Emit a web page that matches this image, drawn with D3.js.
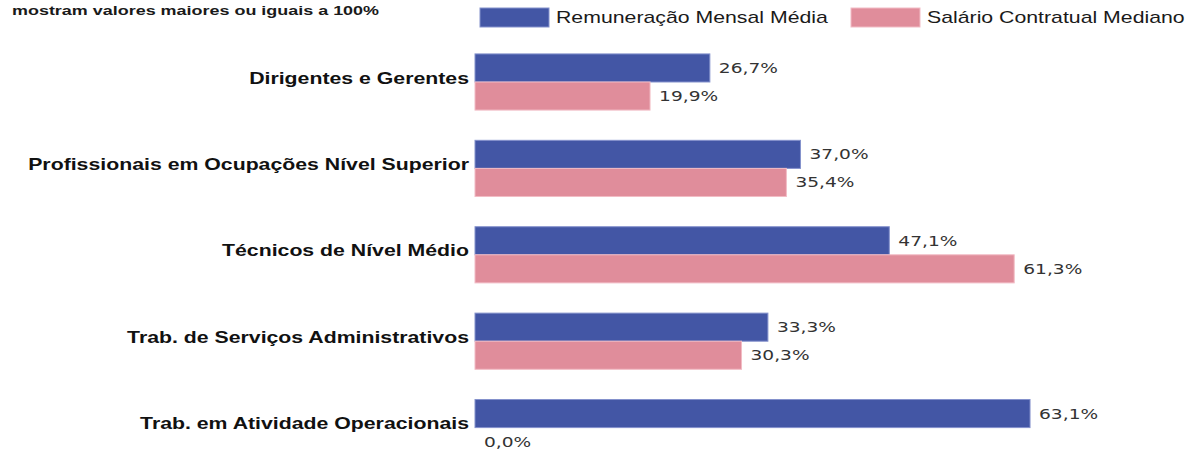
<!DOCTYPE html>
<meta charset="utf-8">
<style>
  body { margin: 0; background: #fff; }
  svg { display: block; }
  .cat { font-family: "Liberation Sans", Arial, sans-serif; font-weight: bold; font-size: 16px; fill: #111; }
  .legend text { font-family: "Liberation Sans", Arial, sans-serif; font-size: 16px; fill: #1a1a1a; }
  .note { font-family: "Liberation Sans", Arial, sans-serif; font-weight: bold; font-size: 13.5px; fill: #1a1a1a; }
  .val { font-family: "DejaVu Sans", Verdana, sans-serif; font-size: 14px; fill: #333; }
</style>
<body>
<div id="chart"></div>
<script src="https://d3js.org/d3.v7.min.js"></script>
<script>
// data
const categories = [
  "Dirigentes e Gerentes",
  "Profissionais em Ocupações Nível Superior",
  "Técnicos de Nível Médio",
  "Trab. de Serviços Administrativos",
  "Trab. em Atividade Operacionais"
];
const series = ["Remuneração Mensal Média", "Salário Contratual Mediano"];
const remuneracao = [26.7, 37.0, 47.1, 33.3, 63.1];
const salario = [19.9, 35.4, 61.3, 30.3, 0.0];
const noteText = "mostram valores maiores ou iguais a 100%";

const colors = ["#4356a5", "#e08d9b"];
const strokes = ["#8491cc", "#f2bcc5"];
const sx = 1.33; // the source picture is stretched sideways

const width = 1186, height = 456;
const svg = d3.select("#chart").append("svg")
  .attr("width", width)
  .attr("height", height);

const rows = categories.map(function(c, i) {
  return { cat: c, values: [remuneracao[i], salario[i]] };
});

// scales
const x = d3.scaleLinear().domain([0, 100]).range([475, 475 + 879.6]);
const y0 = d3.scaleBand().domain(categories).range([38.8, 470.8])
  .paddingInner(0.35).paddingOuter(0.175);
const y1 = d3.scaleBand().domain(series).range([0, y0.bandwidth()]);

const fmt = function(v) { return v.toFixed(1).replace(".", ",") + "%"; };

// note at top (partially cut in the source)
svg.append("text")
  .attr("class", "note")
  .attr("transform", "translate(12,15) scale(" + sx + ",1)")
  .text(noteText);

// legend
const leg = svg.append("g").attr("class", "legend");
const legX = [480, 851];
series.forEach(function(s, i) {
  leg.append("rect")
    .attr("x", legX[i]).attr("y", 8)
    .attr("width", 69).attr("height", 19)
    .attr("fill", colors[i])
    .attr("stroke", strokes[i]).attr("stroke-width", 1);
  leg.append("text")
    .attr("transform", "translate(" + (legX[i] + 76) + ",23) scale(" + sx + ",1)")
    .text(s);
});

// groups
const g = svg.selectAll("g.row")
  .data(rows)
  .enter().append("g")
  .attr("class", "row")
  .attr("transform", function(d) { return "translate(0," + y0(d.cat) + ")"; });

g.append("text")
  .attr("class", "cat")
  .attr("text-anchor", "end")
  .attr("transform", "translate(469," + (y0.bandwidth() / 2 + 1.5) + ") scale(" + sx + ",1)")
  .text(function(d) { return d.cat; });

const bars = g.selectAll("g.bar")
  .data(function(d) { return d.values.map(function(v, i) { return { s: series[i], i: i, v: v }; }); })
  .enter().append("g").attr("class", "bar");

bars.append("rect")
  .attr("x", x(0))
  .attr("y", function(d) { return y1(d.s); })
  .attr("width", function(d) { return x(d.v) - x(0); })
  .attr("height", y1.bandwidth())
  .attr("fill", function(d) { return colors[d.i]; })
  .attr("stroke", function(d) { return strokes[d.i]; })
  .attr("stroke-width", 1);

bars.append("text")
  .attr("class", "val")
  .attr("transform", function(d) {
    return "translate(" + (x(d.v) + 9) + "," + (y1(d.s) + y1.bandwidth() / 2 + 5) + ") scale(" + sx + ",1)";
  })
  .text(function(d) { return fmt(d.v); });
</script>
</body>
